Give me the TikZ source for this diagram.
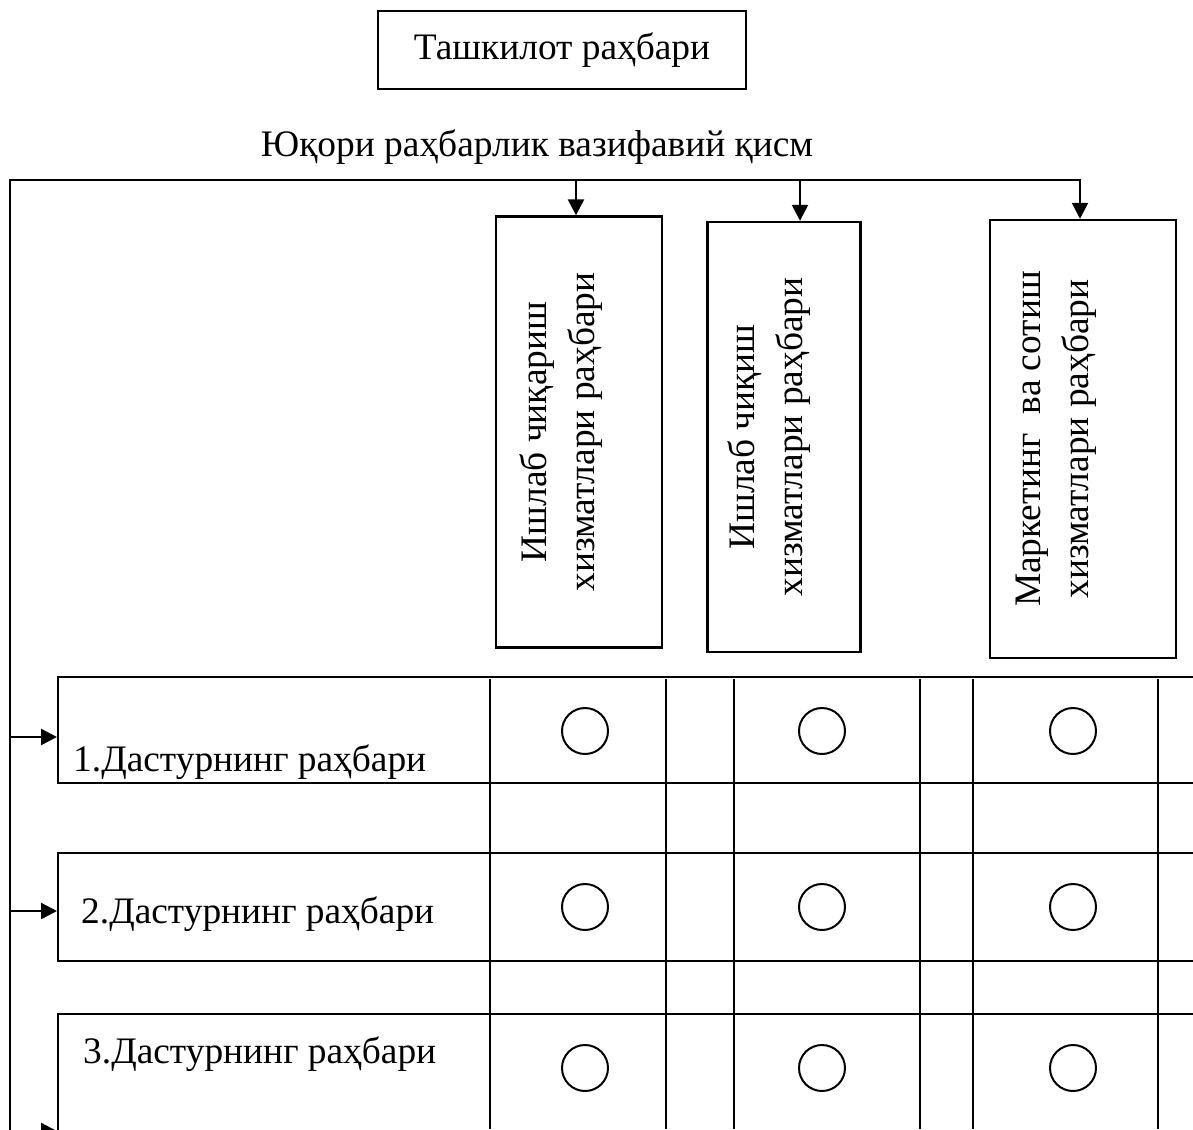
\documentclass[tikz,border=0pt]{standalone}
\usepackage{fontspec}
\setmainfont{Liberation Serif}
\usetikzlibrary{arrows.meta}

\tikzset{
  box/.style={draw, line width=2.4pt, inner sep=0pt},
  frame/.style={draw, line width=2pt, inner sep=0pt, anchor=north west, minimum width=1200pt},
  lbl/.style={inner sep=0pt},
  ring/.style={draw, circle, line width=2pt, minimum size=46pt, inner sep=0pt},
  link/.style={line width=2.4pt, -{Triangle[width=16pt,length=16pt]}},
}

\begin{document}
\begin{tikzpicture}[x=1pt, y=-1pt, font=\fontsize{37.4}{48}\selectfont]
\useasboundingbox (0,0) rectangle (1193,1129);
\clip (0,0) rectangle (1193,1129);

% head and title
\node[box, minimum width=368pt, minimum height=78pt] (head) at (562,50) {Ташкилот раҳбари};
\node[lbl, anchor=base] (title) at (537,157) {Юқори раҳбарлик вазифавий қисм};

% service boxes
\node[box, minimum width=166pt, minimum height=431pt] (b1) at (579,432) {};
\node[box, minimum width=153pt, minimum height=430pt] (b2) at (784,437) {};
\node[box, minimum width=186pt, minimum height=438pt] (b3) at (1083,439) {};
\node[lbl, rotate=90, align=center] (l1) at ([xshift=-18pt]b1.center) {Ишлаб чиқариш\\хизматлари раҳбари};
\node[lbl, rotate=90, align=center] (l2) at ([xshift=-15pt]b2.center) {Ишлаб чиқиш\\хизматлари раҳбари};
\node[lbl, rotate=90, align=center] (l3) at ([xshift=-27pt]b3.center) {Маркетинг~ ва сотиш\\хизматлари раҳбари};

% program rows
\node[frame, minimum height=106pt] (r1) at (57,676) {};
\node[frame, minimum height=108pt] (r2) at (57,852) {};
\node[frame, minimum height=200pt] (r3) at (57,1013) {};
\node[lbl, anchor=base west] (n1) at (73,771) {1.Дастурнинг раҳбари};
\node[lbl, anchor=base west] (n2) at (81,923) {2.Дастурнинг раҳбари};
\node[lbl, anchor=base west] (n3) at (83,1063) {3.Дастурнинг раҳбари};

% grid
\foreach \x in {490,666,734,920,973,1158}
  \draw[line width=2.4pt] (\x,679) -- (\x,1129);
\foreach \y [count=\r] in {731,907,1068}
  \foreach \x [count=\c] in {585,822,1073}
    \node[ring, fill=white] (c\r\c) at (\x,\y) {};

% connectors
\coordinate (sb) at (10,1140);
\coordinate (t1) at (576,180);
\coordinate (t2) at (800,180);
\coordinate (t3) at (1080,180);
\coordinate (s1) at (10,737);
\coordinate (s2) at (10,911);
\coordinate (s3) at (10,1131);
\draw[link] (sb) |- (t3) -- (t3 |- b3.north);
\draw[link] (t1) -- (t1 |- b1.north);
\draw[link] (t2) -- (t2 |- b2.north);
\draw[link] (s1) -- (s1 -| r1.west);
\draw[link] (s2) -- (s2 -| r2.west);
\draw[link] (s3) -- (s3 -| r3.west);
\end{tikzpicture}
\end{document}
